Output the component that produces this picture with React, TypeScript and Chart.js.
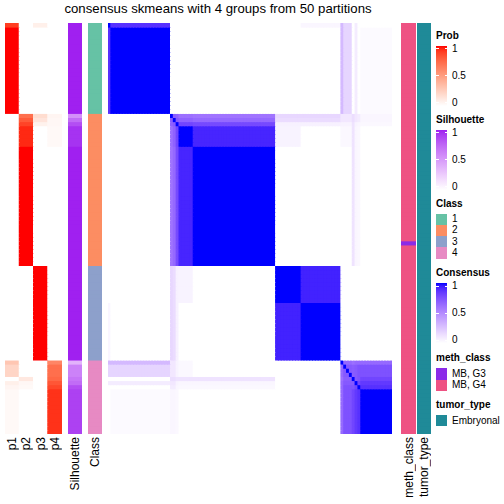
import React, { useEffect, useRef } from 'react';
import { Chart, registerables } from 'chart.js';

Chart.register(...registerables);

// ---------------- DATA ----------------
const TITLE = 'consensus skmeans with 4 groups from 50 partitions';

// samples are ordered by class; consecutive samples with the same profile form a group
const GROUP_SIZES = [1, 21, 1, 1, 1, 5, 29, 9, 14, 1, 3, 1, 1, 1, 11];
const GROUP_CLASS = [1, 1, 2, 2, 2, 2, 2, 3, 3, 4, 4, 4, 4, 4, 4];

// class membership probabilities per group
const GROUP_P1 = [0.9, 1, 0, 0, 0, 0, 0, 0, 0, 0.3, 0.22, 0, 0.08, 0.05, 0.03];
const GROUP_P2 = [0, 0, 0.72, 0.8, 0.88, 0.95, 1, 0, 0, 0, 0, 0.12, 0.04, 0.03, 0];
const GROUP_P3 = [0.08, 0, 0.18, 0.14, 0.07, 0, 0, 1, 1, 0, 0, 0, 0, 0, 0];
const GROUP_P4 = [0, 0, 0.05, 0.04, 0.04, 0.03, 0, 0, 0, 0.62, 0.72, 0.75, 0.82, 0.87, 0.93];
const GROUP_SILHOUETTE = [1, 1, 0.55, 0.72, 0.85, 0.95, 1, 1, 1, 0.38, 0.62, 0.68, 0.72, 0.85, 0.9];

// consensus between groups (lower triangle, symmetric); a sample with itself is 1
const CONSENSUS_LOWER = [
  [1],
  [0.88, 1],
  [0, 0, 1],
  [0, 0, 0.7, 1],
  [0, 0, 0.68, 0.72, 1],
  [0, 0, 0.62, 0.68, 0.8, 1],
  [0, 0, 0.6, 0.65, 0.78, 0.92, 1],
  [0, 0, 0.17, 0.15, 0.06, 0.05, 0, 1],
  [0.04, 0, 0.17, 0.15, 0.06, 0, 0, 0.93, 1],
  [0.3, 0.3, 0.1, 0.1, 0.05, 0.03, 0, 0, 0, 1],
  [0.18, 0.18, 0.1, 0.1, 0.05, 0.03, 0, 0, 0, 0.65, 0.72],
  [0, 0, 0.14, 0.14, 0.12, 0.12, 0.12, 0, 0, 0.62, 0.7, 1],
  [0.08, 0.08, 0.1, 0.1, 0.05, 0.04, 0.04, 0, 0, 0.65, 0.72, 0.72, 1],
  [0, 0, 0.08, 0.08, 0.04, 0.03, 0.03, 0, 0, 0.65, 0.75, 0.75, 0.8, 1],
  [0, 0.02, 0.04, 0.04, 0.03, 0, 0, 0, 0, 0.65, 0.75, 0.8, 0.85, 0.88, 1],
];

const METH_RUNS: [string, number][] = [['MB, G4', 53], ['MB, G3', 1], ['MB, G4', 46]];
const TUMOR_RUNS: [string, number][] = [['Embryonal', 100]];

const PROB_LABELS = ['p1', 'p2', 'p3', 'p4'];
const CLASS_LEVELS = ['1', '2', '3', '4'];
const METH_LEVELS = ['MB, G3', 'MB, G4'];
const TUMOR_LEVELS = ['Embryonal'];
const LEGEND_TICKS = ['1', '0.5', '0'];

// ---------------- STYLE ----------------
const CLASS_COLORS: Record<string, string> = { '1': '#66C2A5', '2': '#FC8D62', '3': '#8DA0CB', '4': '#E78AC3' };
const METH_COLORS: Record<string, string> = { 'MB, G3': '#8B2BE8', 'MB, G4': '#EE5283' };
const TUMOR_COLORS: Record<string, string> = { Embryonal: '#1F8A98' };
const FONT = '"Liberation Sans", Arial, Helvetica, sans-serif';

// ---------------- HELPERS ----------------
function expandGroups<T>(vals: T[]): T[] {
  const out: T[] = [];
  GROUP_SIZES.forEach((n, g) => { for (let k = 0; k < n; k++) out.push(vals[g]); });
  return out;
}
function expandRuns(runs: [string, number][]): string[] {
  const out: string[] = [];
  runs.forEach(([v, n]) => { for (let k = 0; k < n; k++) out.push(v); });
  return out;
}
const SAMPLE_GROUP = expandGroups(GROUP_SIZES.map((_, g) => g));
const N = SAMPLE_GROUP.length;
const SAMPLE_IDS = SAMPLE_GROUP.map((_, i) => 's' + (i + 1));
const P_VALUES = [GROUP_P1, GROUP_P2, GROUP_P3, GROUP_P4].map((a) => expandGroups(a));
const SIL = expandGroups(GROUP_SILHOUETTE);
const CLS = expandGroups(GROUP_CLASS).map(String);
const METH = expandRuns(METH_RUNS);
const TUMOR = expandRuns(TUMOR_RUNS);

function consensus(r: number, c: number): number {
  if (r === c) return 1;
  const a = SAMPLE_GROUP[r], b = SAMPLE_GROUP[c];
  return a >= b ? CONSENSUS_LOWER[a][b] : CONSENSUS_LOWER[b][a];
}

// LAB colour ramps (white -> colour)
function hexToRgb(h: string): number[] {
  const n = parseInt(h.slice(1), 16);
  return [(n >> 16) & 255, (n >> 8) & 255, n & 255];
}
function toLin(c: number) { c /= 255; return c <= 0.04045 ? c / 12.92 : Math.pow((c + 0.055) / 1.055, 2.4); }
function fromLin(c: number) {
  const v = c <= 0.0031308 ? 12.92 * c : 1.055 * Math.pow(c, 1 / 2.4) - 0.055;
  return Math.round(Math.max(0, Math.min(1, v)) * 255);
}
const XN = 0.95047, YN = 1, ZN = 1.08883;
function fLab(t: number) { return t > 216 / 24389 ? Math.cbrt(t) : (24389 / 27 * t + 16) / 116; }
function fInv(f: number) { const f3 = f * f * f; return f3 > 216 / 24389 ? f3 : (116 * f - 16) / (24389 / 27); }
function rgbToLab(rgb: number[]): number[] {
  const [r, g, b] = rgb.map(toLin);
  const X = 0.4124564 * r + 0.3575761 * g + 0.1804375 * b;
  const Y = 0.2126729 * r + 0.7151522 * g + 0.072175 * b;
  const Z = 0.0193339 * r + 0.119192 * g + 0.9503041 * b;
  const fx = fLab(X / XN), fy = fLab(Y / YN), fz = fLab(Z / ZN);
  return [116 * fy - 16, 500 * (fx - fy), 200 * (fy - fz)];
}
function labToRgb(lab: number[]): number[] {
  const [L, a, b] = lab;
  const fy = (L + 16) / 116, fx = fy + a / 500, fz = fy - b / 200;
  const X = fInv(fx) * XN, Y = fInv(fy) * YN, Z = fInv(fz) * ZN;
  const r = 3.2404542 * X - 1.5371385 * Y - 0.4985314 * Z;
  const g = -0.969266 * X + 1.8760108 * Y + 0.041556 * Z;
  const bb = 0.0556434 * X - 0.2040259 * Y + 1.0572252 * Z;
  return [fromLin(r), fromLin(g), fromLin(bb)];
}
function makeRamp(hex: string) {
  const lo = rgbToLab([255, 255, 255]);
  const hi = rgbToLab(hexToRgb(hex));
  return (v: number) => {
    const t = Math.max(0, Math.min(1, v));
    const [r, g, b] = labToRgb(lo.map((x, i) => x + (hi[i] - x) * t));
    return `rgb(${r},${g},${b})`;
  };
}
const RED = makeRamp('#FF0000');
const PURPLE = makeRamp('#A020F0');
const BLUE = makeRamp('#0000FF');

// ---------------- HEATMAP STRIP (Chart.js floating bars) ----------------
type StripProps = {
  left: number; top: number; width: number; height: number;
  columns: string[]; colorAt: (r: number, c: number) => string;
};
function HeatStrip({ left, top, width, height, columns, colorAt }: StripProps) {
  const ref = useRef<HTMLCanvasElement | null>(null);
  useEffect(() => {
    if (!ref.current) return;
    const datasets: any[] = [];
    for (let r = 0; r < N; r++) {
      datasets.push({
        data: columns.map(() => [r, r + 1]),
        backgroundColor: columns.map((_, c) => colorAt(r, c)),
        borderWidth: 0,
        grouped: false,
        categoryPercentage: 1,
        barPercentage: 1,
        inflateAmount: 0.5,
      });
    }
    const chart = new Chart(ref.current, {
      type: 'bar',
      data: { labels: columns, datasets },
      options: {
        animation: false,
        responsive: false,
        maintainAspectRatio: false,
        devicePixelRatio: 1,
        events: [],
        layout: { padding: 0 },
        plugins: { legend: { display: false }, tooltip: { enabled: false }, title: { display: false } },
        scales: {
          x: { type: 'category', display: false, offset: true },
          y: { type: 'linear', display: false, min: 0, max: N, reverse: true },
        },
      },
    });
    return () => chart.destroy();
  }, []);
  return (
    <canvas ref={ref} width={width} height={height}
      style={{ position: 'absolute', left, top, width, height }} />
  );
}

// ---------------- LEGENDS ----------------
const LEG_X = 436, LEG_W = 11, LABEL_X = 452, BOX_H = 11.3, BAR_H = 59.6;

function LegendTitle({ text, boxTop }: { text: string; boxTop: number }) {
  const baseline = boxTop - 6.5;
  return (
    <div style={{ position: 'absolute', left: LEG_X, top: baseline - 8.47, fontSize: 10, lineHeight: '10px', fontWeight: 'bold', whiteSpace: 'nowrap' }}>{text}</div>
  );
}
function LegendLabel({ text, cy }: { text: string; cy: number }) {
  return (
    <div style={{ position: 'absolute', left: LABEL_X, top: cy - 5, fontSize: 10, lineHeight: '10px', whiteSpace: 'nowrap' }}>{text}</div>
  );
}
function ColorBar({ title, top, ramp }: { title: string; top: number; ramp: (v: number) => string }) {
  const stops: string[] = [];
  for (let k = 0; k <= 20; k++) stops.push(`${ramp(1 - k / 20)} ${(k * 5)}%`);
  return (
    <>
      <LegendTitle text={title} boxTop={top} />
      <div style={{ position: 'absolute', left: LEG_X, top, width: LEG_W, height: BAR_H, background: `linear-gradient(to bottom, ${stops.join(', ')})` }} />
      {LEGEND_TICKS.map((t, i) => {
        const cy = top + 2.7 + i * 27.1;
        return (
          <React.Fragment key={t}>
            <div style={{ position: 'absolute', left: LEG_X, top: cy - 0.5, width: 2.5, height: 1, background: '#fff' }} />
            <div style={{ position: 'absolute', left: LEG_X + LEG_W - 2.5, top: cy - 0.5, width: 2.5, height: 1, background: '#fff' }} />
            <LegendLabel text={t} cy={cy} />
          </React.Fragment>
        );
      })}
    </>
  );
}
function DiscreteLegend({ title, top, levels, colors }: { title: string; top: number; levels: string[]; colors: Record<string, string> }) {
  return (
    <>
      <LegendTitle text={title} boxTop={top} />
      {levels.map((lv, i) => (
        <React.Fragment key={lv}>
          <div style={{ position: 'absolute', left: LEG_X, top: top + i * BOX_H, width: LEG_W, height: BOX_H, background: colors[lv] }} />
          <LegendLabel text={lv} cy={top + (i + 0.5) * BOX_H} />
        </React.Fragment>
      ))}
    </>
  );
}

function ColLabel({ text, cx }: { text: string; cx: number }) {
  return (
    <div style={{ position: 'absolute', left: cx - 7, top: 437, width: 14, writingMode: 'vertical-rl', transform: 'rotate(180deg)', fontSize: 12, lineHeight: '14px', whiteSpace: 'nowrap' }}>{text}</div>
  );
}

// ---------------- APP ----------------
const TOP = 23, HEIGHT = 411;

export default function App() {
  return (
    <div style={{ position: 'absolute', left: 0, top: 0, width: 504, height: 504, background: '#fff', overflow: 'hidden', fontFamily: FONT, color: '#000' }}>
      <div style={{ position: 'absolute', left: 5, width: 426, top: 1.4, textAlign: 'center', fontSize: 13.2, lineHeight: '16px', whiteSpace: 'nowrap' }}>{TITLE}</div>

      <HeatStrip left={5} top={TOP} width={57} height={HEIGHT} columns={PROB_LABELS}
        colorAt={(r, c) => RED(P_VALUES[c][r])} />
      <HeatStrip left={68} top={TOP} width={14} height={HEIGHT} columns={['Silhouette']}
        colorAt={(r) => PURPLE(SIL[r])} />
      <HeatStrip left={88} top={TOP} width={14} height={HEIGHT} columns={['Class']}
        colorAt={(r) => CLASS_COLORS[CLS[r]]} />
      <HeatStrip left={108} top={TOP} width={284} height={HEIGHT} columns={SAMPLE_IDS}
        colorAt={(r, c) => BLUE(consensus(r, c))} />
      <HeatStrip left={401} top={TOP} width={15} height={HEIGHT} columns={['meth_class']}
        colorAt={(r) => METH_COLORS[METH[r]]} />
      <HeatStrip left={417} top={TOP} width={14} height={HEIGHT} columns={['tumor_type']}
        colorAt={(r) => TUMOR_COLORS[TUMOR[r]]} />

      {PROB_LABELS.map((p, i) => <ColLabel key={p} text={p} cx={5 + 57 * (i + 0.5) / 4} />)}
      <ColLabel text="Silhouette" cx={75} />
      <ColLabel text="Class" cx={95} />
      <ColLabel text="meth_class" cx={408.5} />
      <ColLabel text="tumor_type" cx={424} />

      <ColorBar title="Prob" top={46} ramp={RED} />
      <ColorBar title="Silhouette" top={130} ramp={PURPLE} />
      <DiscreteLegend title="Class" top={213.5} levels={CLASS_LEVELS} colors={CLASS_COLORS} />
      <ColorBar title="Consensus" top={283.3} ramp={BLUE} />
      <DiscreteLegend title="meth_class" top={368.3} levels={METH_LEVELS} colors={METH_COLORS} />
      <DiscreteLegend title="tumor_type" top={415} levels={TUMOR_LEVELS} colors={TUMOR_COLORS} />
    </div>
  );
}
